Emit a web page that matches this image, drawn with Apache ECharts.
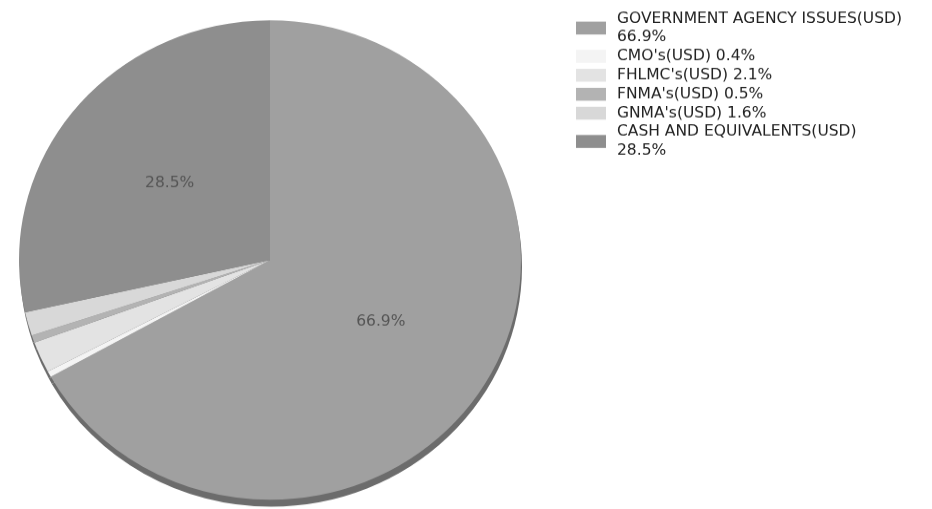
<!DOCTYPE html>
<html>
<head>
<meta charset="utf-8">
<script src="https://cdn.jsdelivr.net/npm/echarts@6/dist/echarts.min.js"></script>
<style>
html,body{margin:0;padding:0;background:#fff;overflow:hidden;}
#wrap{width:932px;height:509px;overflow:hidden;position:relative;}
#chart{width:932px;height:533px;transform:scaleY(0.955);transform-origin:0 0;}
</style>
</head>
<body>
<div id="wrap"><div id="chart"></div></div>
<script>
const categories = ['GOVERNMENT AGENCY ISSUES(USD)', "CMO's(USD)", "FHLMC's(USD)", "FNMA's(USD)", "GNMA's(USD)", 'CASH AND EQUIVALENTS(USD)'];
const values = [66.9, 0.4, 2.1, 0.5, 1.6, 28.5];
const twoLineLegend = [true, false, false, false, false, true];
const sliceColors = ['#a0a0a0', '#f4f4f4', '#e3e3e3', '#b3b3b3', '#d8d8d8', '#8e8e8e'];
const insideLabels = [true, false, false, false, false, true];

const S = 0.955;
const data = categories.map((c, i) => ({
  name: c,
  value: values[i],
  itemStyle: { color: sliceColors[i] },
  label: { show: insideLabels[i] }
}));
const shadowData = categories.map((c, i) => ({
  name: c,
  value: values[i],
  itemStyle: { color: '#6c6c6c' }
}));

const chart = echarts.init(document.getElementById('chart'), null, { renderer: 'canvas' });
chart.setOption({
  animation: false,
  legend: {
    orient: 'vertical',
    left: 571,
    top: 5,
    itemWidth: 30,
    itemHeight: 13.5,
    itemGap: 0.5,
    icon: 'rect',
    selectedMode: false,
    data: categories,
    formatter: function (name) {
      const i = categories.indexOf(name);
      return twoLineLegend[i] ? name + '\n' + values[i].toFixed(1) + '%' : name + ' ' + values[i].toFixed(1) + '%';
    },
    textStyle: {
      fontFamily: 'DejaVu Sans',
      fontSize: 15.5,
      color: '#222',
      lineHeight: 18.5 / S,
      padding: [0, 0, 0, 6]
    }
  },
  series: [
    {
      type: 'pie',
      name: 'face',
      z: 3,
      center: [270, 260 / S],
      radius: [0, 251],
      startAngle: 90,
      clockwise: true,
      silent: true,
      avoidLabelOverlap: false,
      label: {
        position: 'inner',
        formatter: function (p) { return values[p.dataIndex].toFixed(1) + '%'; },
        fontFamily: 'DejaVu Sans',
        fontSize: 15.5,
        color: '#555'
      },
      labelLine: { show: false },
      itemStyle: { borderWidth: 0 },
      data: data
    },
    {
      type: 'pie',
      name: 'edge',
      z: 1,
      center: [271, (260 + 7) / S],
      radius: [0, 251],
      startAngle: 90,
      clockwise: true,
      silent: true,
      label: { show: false },
      labelLine: { show: false },
      itemStyle: { borderWidth: 0 },
      data: shadowData
    }
  ]
});
</script>
</body>
</html>
